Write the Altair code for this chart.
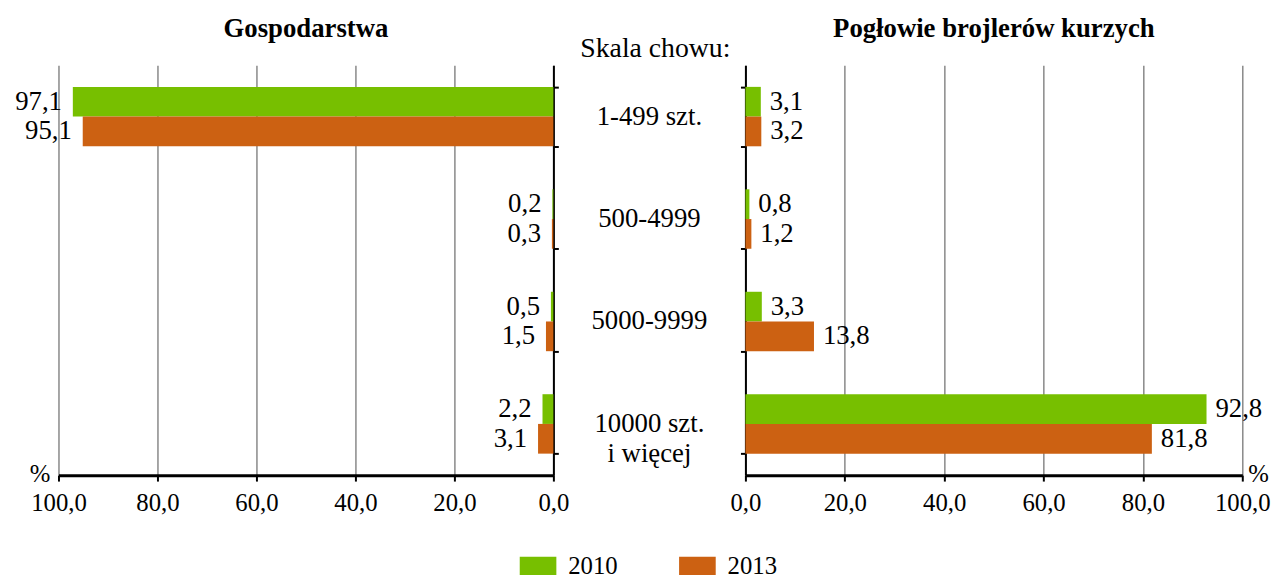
import altair as alt
import pandas as pd

categories = ["1-499 szt.", "500-4999", "5000-9999", "10000 szt.\ni więcej"]
years = ["2010", "2013"]
gosp_2010 = [97.1, 0.2, 0.5, 2.2]
gosp_2013 = [95.1, 0.3, 1.5, 3.1]
pog_2010 = [3.1, 0.8, 3.3, 92.8]
pog_2013 = [3.2, 1.2, 13.8, 81.8]
colors = ["#77BF00", "#CC6112"]
x_ticks = [0, 20, 40, 60, 80, 100]
titles = ["Gospodarstwa", "Pogłowie brojlerów kurzych"]
mid_title = "Skala chowu:"


def make_df(v2010, v2013):
    rows = []
    for c, a, b in zip(categories, v2010, v2013):
        rows.append({"cat": c, "year": years[0], "value": a})
        rows.append({"cat": c, "year": years[1], "value": b})
    df = pd.DataFrame(rows)
    df["label"] = df["value"].map(lambda v: f"{v:.1f}".replace(".", ","))
    return df


FONT = "'Liberation Serif', 'Times New Roman', Times, serif"
W_L, W_M, W_R, H = 500, 194, 502, 414

yscale = alt.Scale(domain=categories, paddingInner=0.42, paddingOuter=0.21)
color = alt.Color(
    "year:N",
    scale=alt.Scale(domain=years, range=colors),
    legend=alt.Legend(
        title=None,
        orient="none",
        direction="horizontal",
        legendX=466,
        legendY=487,
        symbolType="M-1,-0.5L1,-0.5L1,0.5L-1,0.5Z",
        symbolSize=1369,
        symbolStrokeWidth=0,
        symbolOpacity=1,
        labelFont=FONT,
        labelFontSize=25,
        labelColor="black",
        labelOffset=12,
        columnPadding=62,
    ),
)


def panel(df, title, reverse, y_orient, label_align, label_dx, pct_x, width):
    x = alt.X(
        "value:Q",
        scale=alt.Scale(domain=[0, 100], reverse=reverse, nice=False, zero=True),
        axis=alt.Axis(
            values=x_ticks,
            labelExpr="replace(format(datum.value, '.1f'), '.', ',')",
            grid=True,
            gridColor="#888888",
            gridWidth=1.5,
            domainColor="black",
            domainWidth=3,
            tickColor="black",
            tickWidth=2,
            tickSize=6,
            labelFont=FONT,
            labelFontSize=25,
            labelColor="black",
            labelPadding=10,
            labelFlush=False,
            labelOverlap=False,
            title="%",
            titleFont=FONT,
            titleFontSize=25,
            titleFontWeight="normal",
            titleColor="black",
            titleX=pct_x,
            titleY=-2,
            titleAlign="center",
            titleBaseline="middle",
        ),
    )
    y = alt.Y(
        "cat:N",
        scale=yscale,
        sort=categories,
        axis=alt.Axis(
            orient=y_orient,
            labels=False,
            title=None,
            domainColor="black",
            domainWidth=2,
            tickColor="black",
            tickWidth=2,
            tickSize=5,
            tickBand="extent",
            grid=False,
        ),
    )
    yoff = alt.YOffset("year:N", sort=years)
    base = alt.Chart(df)
    bars = base.mark_bar().encode(x=x, y=y, yOffset=yoff, color=color)
    text = base.mark_text(
        align=label_align, dx=label_dx, baseline="middle", font=FONT, fontSize=27, color="black"
    ).encode(x="value:Q", y=alt.Y("cat:N", sort=categories), yOffset=yoff, text="label:N")
    return alt.layer(bars, text).properties(
        width=width,
        height=H,
        title=alt.Title(title, font=FONT, fontSize=27, fontWeight="bold", color="black", offset=23),
    )


left = panel(make_df(gosp_2010, gosp_2013), titles[0], True, "right", "right", -11, -19, W_L)
right = panel(make_df(pog_2010, pog_2013), titles[1], False, "left", "left", 9, 518, W_R)

mid_df = pd.DataFrame({"cat": categories})
mid = (
    alt.Chart(mid_df)
    .mark_text(font=FONT, fontSize=27, lineBreak="\n", lineHeight=30, baseline="middle", color="black")
    .encode(
        y=alt.Y("cat:N", scale=yscale, sort=categories, axis=None),
        text="cat:N",
        x=alt.value(W_M / 2),
    )
    .properties(
        width=W_M,
        height=H,
        title=alt.Title(mid_title, font=FONT, fontSize=28, fontWeight="normal", color="black", offset=2, dx=6),
    )
)

chart = (
    alt.hconcat(left, mid, right, spacing=0, bounds="flush")
    .properties(padding={"left": 7, "top": 4, "right": 0, "bottom": 0})
    .configure_view(stroke=None)
    .configure_title(anchor="middle")
)

chart.save("out.html", embed_options={"renderer": "svg", "actions": False})
